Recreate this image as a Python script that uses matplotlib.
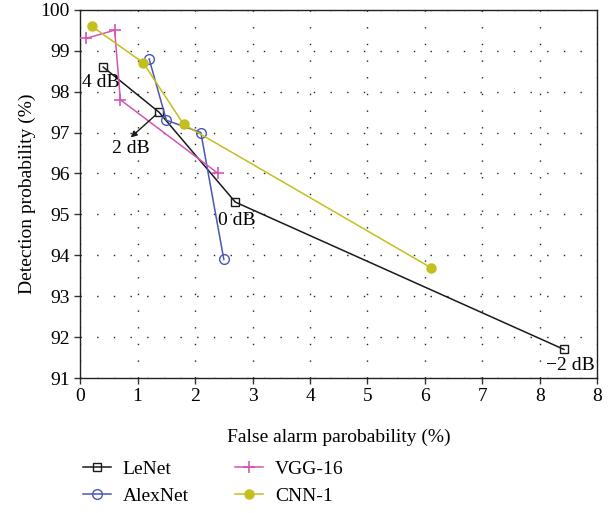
import matplotlib
matplotlib.use("Agg")
import matplotlib.pyplot as plt
from matplotlib.lines import Line2D

plt.rcParams['font.family'] = ['Liberation Serif', 'DejaVu Serif']

# Data (false alarm %, detection %)
lenet_x = [0.4, 1.37, 2.7, 8.42]
lenet_y = [98.6, 97.5, 95.3, 91.7]
alexnet_x = [1.2, 1.5, 2.1, 2.5]
alexnet_y = [98.8, 97.3, 97.0, 93.9]
vgg_x = [0.1, 0.6, 0.7, 2.4]
vgg_y = [99.3, 99.5, 97.8, 96.0]
cnn_x = [0.2, 1.1, 1.8, 6.1]
cnn_y = [99.6, 98.7, 97.2, 93.7]

xticks = [0, 1, 2, 3, 4, 5, 6, 7, 8, 9]
xtick_labels = ['0', '1', '2', '3', '4', '5', '6', '7', '8', '8']
yticks = [91, 92, 93, 94, 95, 96, 97, 98, 99, 100]
snr_labels = ['4 dB', '2 dB', '0 dB', '\u22122 dB']

c_black = '#1a1a1a'
c_blue = '#4a56b8'
c_pink = '#d455b5'
c_yellow = '#c4bf1c'

FS = 14

fig = plt.figure(figsize=(6.12, 5.13), dpi=100)
ax = fig.add_axes([0.131, 0.263, 0.845, 0.718])

lw = 1.1
ax.plot(lenet_x, lenet_y, color=c_black, lw=lw, marker='s', ms=5.5,
        mfc='none', mec=c_black, mew=1.0, label='LeNet', zorder=3)
ax.plot(alexnet_x, alexnet_y, color=c_blue, lw=lw, marker='o', ms=7,
        mfc='none', mec=c_blue, mew=1.0, label='AlexNet', zorder=3)
ax.plot(vgg_x, vgg_y, color=c_pink, lw=lw, marker='+', ms=9,
        mec=c_pink, mew=1.2, label='VGG-16', zorder=3)
ax.plot(cnn_x, cnn_y, color=c_yellow, lw=lw, marker='o', ms=6.5,
        mfc=c_yellow, mec=c_yellow, label='CNN-1', zorder=3)

ax.set_xlim(0, 9)
ax.set_ylim(91, 100)
ax.set_xticks(xticks)
ax.set_xticklabels(xtick_labels)
ax.set_yticks(yticks)
ax.tick_params(labelsize=FS, direction='out', length=4, width=1, color='#333333')
ax.grid(True, color='#222222', linestyle=(0, (1, 11)), linewidth=1.0)
for s in ax.spines.values():
    s.set_linewidth(1.0)
    s.set_color('#222222')

ax.set_xlabel('False alarm parobability (%)', fontsize=FS, labelpad=17)
ax.set_ylabel('Detection probability (%)', fontsize=FS, labelpad=3)

# SNR annotations
ax.text(0.03, 98.22, snr_labels[0], fontsize=FS, ha='left', va='center')
ax.annotate('', xy=(0.88, 96.88), xytext=(lenet_x[1], lenet_y[1]),
            arrowprops=dict(arrowstyle='-|>', color=c_black, lw=1.0,
                            mutation_scale=9, shrinkA=3, shrinkB=0))
ax.text(0.55, 96.62, snr_labels[1], fontsize=FS, ha='left', va='center')
ax.text(2.4, 94.85, snr_labels[2], fontsize=FS, ha='left', va='center')
ax.text(8.95, 91.3, snr_labels[3], fontsize=FS, ha='right', va='center')

handles = [
    Line2D([], [], color=c_black, lw=lw, marker='s', ms=5.5, mfc='none', mec=c_black),
    Line2D([], [], color=c_blue, lw=lw, marker='o', ms=7, mfc='none', mec=c_blue),
    Line2D([], [], color=c_pink, lw=lw, marker='+', ms=9, mew=1.2),
    Line2D([], [], color=c_yellow, lw=lw, marker='o', ms=6.5, mfc=c_yellow, mec=c_yellow),
]
labels = ['LeNet', 'AlexNet', 'VGG-16', 'CNN-1']
fig.legend(handles, labels, ncol=2, loc='upper left', bbox_to_anchor=(0.135, 0.103),
           frameon=False, fontsize=FS, handlelength=1.45, handletextpad=0.6,
           columnspacing=2.4, labelspacing=0.5, borderaxespad=0, borderpad=0)

fig.savefig('out.png', dpi=100)
